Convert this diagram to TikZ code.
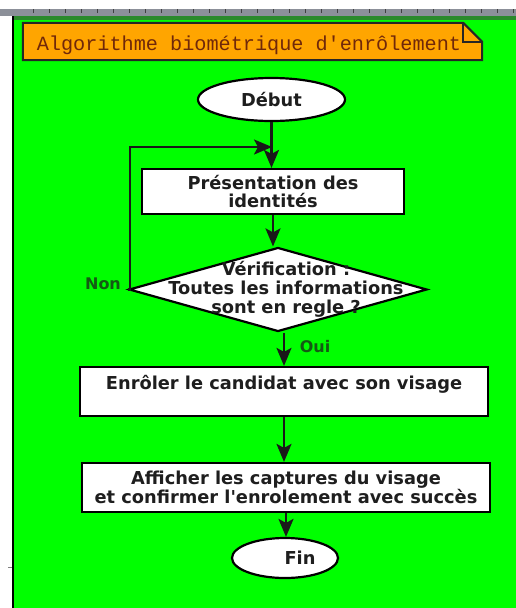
\documentclass[tikz,border=0pt]{standalone}
\usepackage{fontspec}
\setmainfont{DejaVu Sans}
\newfontfamily\titlemono{Liberation Mono}
\usetikzlibrary{shapes.geometric,arrows.meta}
\definecolor{bggreen}{HTML}{00FF00}
\definecolor{darkline}{HTML}{2A8A2A}
\definecolor{titleorange}{HTML}{FFA500}
\definecolor{titletext}{HTML}{70280A}
\definecolor{labelgreen}{HTML}{145A14}
\definecolor{rulergray}{HTML}{8C9099}
\definecolor{boxtext}{HTML}{1E1E1E}
\begin{document}
\begin{tikzpicture}[x=1pt,y=-1pt,
  boxfont/.style={font=\fontsize{17.8}{18.8}\selectfont\bfseries},
  procbox/.style={draw=black, line width=2.2pt, fill=white, boxfont, text=boxtext, align=center, inner sep=0pt},
  term/.style={ellipse, draw=black, line width=2.2pt, fill=white, boxfont, text=boxtext, inner sep=0pt},
  conn/.style={draw=black!90, line width=2.4pt, -{Stealth[length=18pt,width=15pt,inset=4pt]}},
  lbl/.style={text=labelgreen, font=\fontsize{16}{18}\selectfont\bfseries, inner sep=0pt}]
% page background and ruler
\useasboundingbox (0,0) rectangle (516,608);
\fill[white] (0,0) rectangle (516,608);
\fill[rulergray] (0,9) rectangle (516,16);
\foreach \tx in {33,49,...,516} \draw[black!75, line width=0.9pt] (\tx,9) -- (\tx,12.5);
\fill[bggreen] (13,16) rectangle (516,608);
\fill[darkline] (13,16) rectangle (516,19.5);
\draw[black, line width=2.5pt] (13,16) -- (13,608);
\draw[black!50, line width=0.8pt] (8,567) -- (12,567);
% title note
\node[minimum width=459pt, minimum height=37pt, inner sep=0pt] (title) at (252.5,41.5) {};
\draw[black!85, line width=2pt, fill=titleorange]
  (title.north west) -- ([xshift=-19pt]title.north east) -- ([yshift=-19pt]title.north east)
  -- (title.south east) -- (title.south west) -- cycle;
\draw[black!85, line width=1.5pt] ([xshift=-19pt]title.north east) |- ([yshift=-19pt]title.north east);
\node[text=titletext, font=\titlemono\fontsize{20.2}{22}\selectfont, inner sep=0pt] (titletxt) at (249,45) {Algorithme biométrique d\textquotesingle enrôlement};
% flowchart nodes
\node[term, minimum width=147pt, minimum height=43pt] (debut) at (271.5,99.5) {Début};
\node[procbox, minimum width=262pt, minimum height=45pt] (pres) at (273,191.5) {Présentation des\\identités};
\node[diamond, draw=black, line width=2.2pt, fill=white, minimum width=298pt, minimum height=84pt, inner sep=0pt] (dia) at (278,289.5) {};
\node[boxfont, text=boxtext, align=center, inner sep=0pt] (diatext) at (286,289.5) {Vérification :\\Toutes les informations\\sont en regle ?};
\node[procbox, minimum width=408pt, text height=22pt, text depth=27pt] (enrol) at (284,391.5) {Enrôler le candidat avec son visage};
\node[procbox, minimum width=408pt, minimum height=49pt] (affi) at (286,487.5) {Afficher les captures du visage\\et confirmer l\textquotesingle enrolement avec succès};
\node[term, minimum width=106pt, minimum height=40pt] (fin) at (285,558) {\hspace*{30pt}Fin};
% labels
\node[lbl] (non) at (103,284) {Non};
\node[lbl] (oui) at (315,347) {Oui};
% connectors
\coordinate (join) at (272,147);
\coordinate (loopc) at (130,147);
\draw[conn] (debut.south) -- (debut.south |- pres.north);
\draw[conn] (pres.south) -- (pres.south |- dia.north);
\draw[conn] (dia.west) -| (loopc) -- (join);
\draw[conn] (enrol.north |- dia.south) -- (enrol.north);
\draw[conn] (enrol.south) -- (enrol.south |- affi.north);
\draw[conn] (affi.south) -- (affi.south |- fin.north);
\end{tikzpicture}
\end{document}
